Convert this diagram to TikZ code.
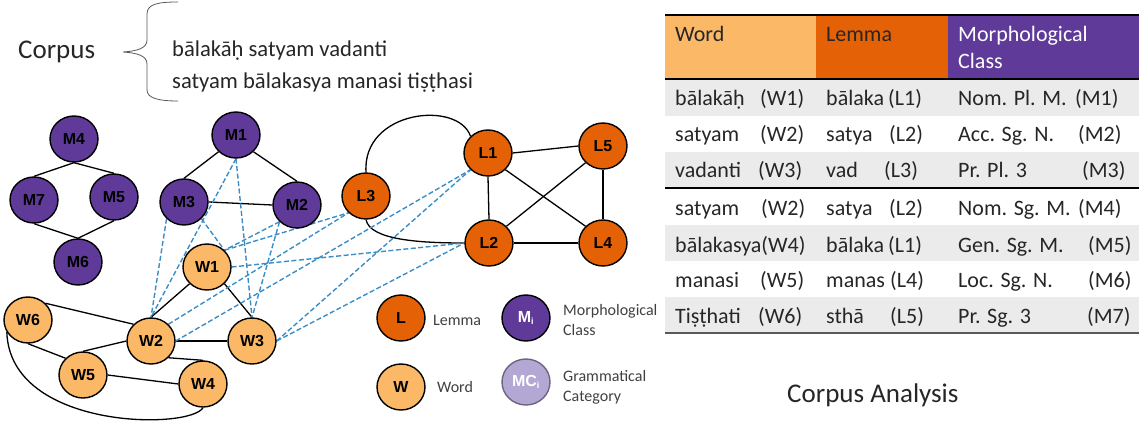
\documentclass[tikz,border=0pt]{standalone}
\usepackage{fontspec}
\setmainfont{Carlito}
\newfontfamily\nodefont{Liberation Sans}
\usetikzlibrary{shapes.geometric,backgrounds}
\definecolor{mpurple}{HTML}{603A99}
\definecolor{lorange}{HTML}{E46205}
\definecolor{wyellow}{HTML}{FBB867}
\definecolor{mclight}{HTML}{B3A8D3}
\definecolor{dashblue}{HTML}{3B8DC8}
\definecolor{rowgray}{HTML}{EBEBEB}
\definecolor{txt}{HTML}{262626}
\definecolor{legtxt}{HTML}{404040}
\begin{document}
\begin{tikzpicture}[x=1pt,y=-1pt,
  gnode/.style={ellipse, draw=black, line width=1.4pt, minimum width=48pt, minimum height=46pt, inner sep=0pt, font=\nodefont\bfseries\fontsize{16}{16}\selectfont},
  mnode/.style={gnode, fill=mpurple},
  lnode/.style={gnode, fill=lorange},
  wnode/.style={gnode, fill=wyellow},
  cnode/.style={gnode, fill=mclight},
  edge/.style={line width=1.3pt, black},
  dlink/.style={draw=dashblue, line width=1.4pt, dash pattern=on 5pt off 2.5pt},
  tcell/.style={anchor=base west, inner sep=0pt, text=txt, font=\fontsize{22}{26}\selectfont},
  legtext/.style={anchor=west, inner sep=0pt, text=legtxt, align=left, font=\fontsize{16}{20}\selectfont},
]
\useasboundingbox (0,0) rectangle (1141,425);

% ---- Corpus ----
\node[anchor=west, inner sep=0pt, text=txt, font=\fontsize{27}{30}\selectfont] (corpus) at (18,52) {Corpus};
\draw[line width=0.8pt, black!65] (178,2) .. controls (158,2) and (147,4) .. (147,14) -- (147,40)
  .. controls (147,48) and (138,51) .. (123,52) .. controls (138,53) and (147,56) .. (147,64) -- (147,90)
  .. controls (147,98) and (158,101) .. (178,101);
\node[anchor=base west, inner sep=0pt, text=txt, font=\fontsize{22.6}{26}\selectfont] (s1) at (172,57) {bālakāḥ satyam vadanti};
\node[anchor=base west, inner sep=0pt, text=txt, font=\fontsize{22.6}{26}\selectfont] (s2) at (172,89) {satyam bālakasya manasi tiṣṭhasi};

% ---- Graph nodes ----
\node[mnode] (M4) at (74,139) {M4};
\node[mnode] (M7) at (34,200) {M7};
\node[mnode] (M5) at (114,197) {M5};
\node[mnode] (M6) at (78,262) {M6};
\node[mnode] (M1) at (236,135) {M1};
\node[mnode] (M3) at (184,202) {M3};
\node[mnode] (M2) at (297,205) {M2};
\node[wnode] (W1) at (207,267) {W1};
\node[wnode] (W6) at (28,320) {W6};
\node[wnode] (W2) at (151,341) {W2};
\node[wnode] (W3) at (252,341) {W3};
\node[wnode] (W5) at (83,375) {W5};
\node[wnode] (W4) at (203,384) {W4};
\node[lnode] (L1) at (488,153) {L1};
\node[lnode] (L5) at (603,146) {L5};
\node[lnode] (L3) at (366,196) {L3};
\node[lnode] (L2) at (489,243) {L2};
\node[lnode] (L4) at (603,243) {L4};

% ---- Legend ----
\node[lnode] (legL) at (401,318) {L};
\node[mnode, text=white] (legM) at (526,318) {M\textsubscript{\fontsize{9}{9}\selectfont i}};
\node[wnode] (legW) at (401,387) {W};
\node[cnode, draw=mclight!60!black, text=white] (legC) at (526,382) {MC\textsubscript{\fontsize{9}{9}\selectfont i}};
\node[legtext] (tL) at (433,320) {Lemma};
\node[legtext] (tM) at (563,320) {Morphological\\Class};
\node[legtext] (tW) at (437,387) {Word};
\node[legtext] (tC) at (563,387) {Grammatical\\Category};

% ---- Edges ----
\begin{scope}[on background layer]
\draw[edge] (M4.south) -- (M7.north);
\draw[edge] (M4.south) -- (M5.north);
\draw[edge] (M7.south) -- (M6.north);
\draw[edge] (M5.south) -- (M6.north);
\draw[edge] (M1.south west) -- (M3.north);
\draw[edge] (M1.south east) -- (M2.north);
\draw[edge] (M3.east) -- (M2.west);
\draw[edge] (W1.south west) -- (W2.north);
\draw[edge] (W1.south east) -- (W3.north);
\draw[edge] (W2.east) -- (W3.west);
\draw[edge] (W6.north east) -- (W2.north west);
\draw[edge] (W6.south) -- (W5.north west);
\draw[edge] (W2.west) -- (W5.north);
\draw[edge] (W5.east) -- (W4.west);
\draw[edge] (W2.south east) -- (W4.north);
\draw[edge] (W6.210) .. controls (10,430) and (190,430) .. (W4.south);
\draw[edge] (L3.north) .. controls (362,110) and (458,100) .. (L1.north west);
\draw[edge] (L3.south) .. controls (370,240) and (420,243) .. (L2.west);
\draw[edge] (L1.east) -- (L5.west);
\draw[edge] (L1.south) -- (L2.north);
\draw[edge] (L1.south east) -- (L4.north west);
\draw[edge] (L2.north east) -- (L5.south west);
\draw[edge] (L2.east) -- (L4.west);
\draw[edge] (L5.south) -- (L4.north);
% dashed links
\draw[dlink] (M1.south) -- (W2.north);
\draw[dlink] (M1.south) -- (W3.north);
\draw[dlink] (M3.south west) -- (W2.north);
\draw[dlink] (M3.south east) -- (W1.north east);
\draw[dlink] (M2.south west) -- (W1.north east);
\draw[dlink] (M2.south west) -- (W3.north);
\draw[dlink] (W1.north east) -- (L3.south west);
\draw[dlink] (W2.north east) -- (L3.south west);
\draw[dlink] (W1.east) -- (L2.west);
\draw[dlink] (W2.east) -- (L1.south west);
\draw[dlink] (W3.east) -- (L1.south west);
\draw[dlink] (W3.east) -- (L2.west);
\end{scope}

% ---- Table ----
\fill[wyellow] (665,15) rectangle (816,79);
\fill[lorange] (816,15) rectangle (948,79);
\fill[mpurple] (948,15) rectangle (1139,79);
\fill[rowgray] (665,79) rectangle (1139,116);
\fill[rowgray] (665,152) rectangle (1139,188);
\fill[rowgray] (665,225) rectangle (1139,261);
\fill[rowgray] (665,297) rectangle (1139,333);
\draw[line width=2pt, black] (665,15) -- (1139,15);
\draw[line width=2pt, black] (665,79) -- (1139,79);
\draw[line width=1.3pt, black] (665,188) -- (1139,188);
\draw[line width=2pt, black!65] (665,333) -- (1139,333);

\node[tcell] (hW) at (675,42) {Word};
\node[tcell] (hL) at (826,42) {Lemma};
\node[tcell, text=white] (hM1) at (958,42) {Morphological};
\node[tcell, text=white] (hM2) at (958,69) {Class};

\node[tcell] (r1a) at (675,106) {bālakāḥ};
\node[tcell] (r1b) at (760,106) {(W1)};
\node[tcell] (r1c) at (826,106) {bālaka};
\node[tcell] (r1d) at (888,106) {(L1)};
\node[tcell] (r1e) at (958,106) {Nom. Pl. M.};
\node[tcell] (r1f) at (1075,106) {(M1)};

\node[tcell] (r2a) at (675,142) {satyam};
\node[tcell] (r2b) at (760,142) {(W2)};
\node[tcell] (r2c) at (826,142) {satya};
\node[tcell] (r2d) at (889,142) {(L2)};
\node[tcell] (r2e) at (958,142) {Acc. Sg. N.};
\node[tcell] (r2f) at (1078,142) {(M2)};

\node[tcell] (r3a) at (675,178) {vadanti};
\node[tcell] (r3b) at (758,178) {(W3)};
\node[tcell] (r3c) at (826,178) {vad};
\node[tcell] (r3d) at (884,178) {(L3)};
\node[tcell] (r3e) at (958,178) {Pr. Pl. 3};
\node[tcell] (r3f) at (1082,178) {(M3)};

\node[tcell] (r4a) at (675,215) {satyam};
\node[tcell] (r4b) at (761,215) {(W2)};
\node[tcell] (r4c) at (826,215) {satya};
\node[tcell] (r4d) at (889,215) {(L2)};
\node[tcell] (r4e) at (958,215) {Nom. Sg. M.};
\node[tcell] (r4f) at (1078,215) {(M4)};

\node[tcell] (r5a) at (675,252) {bālakasya(W4)};
\node[tcell] (r5c) at (826,252) {bālaka};
\node[tcell] (r5d) at (888,252) {(L1)};
\node[tcell] (r5e) at (958,252) {Gen. Sg. M.};
\node[tcell] (r5f) at (1088,252) {(M5)};

\node[tcell] (r6a) at (675,287) {manasi};
\node[tcell] (r6b) at (760,287) {(W5)};
\node[tcell] (r6c) at (826,287) {manas};
\node[tcell] (r6d) at (890,287) {(L4)};
\node[tcell] (r6e) at (958,287) {Loc. Sg. N.};
\node[tcell] (r6f) at (1088,287) {(M6)};

\node[tcell] (r7a) at (675,323) {Tiṣṭhati};
\node[tcell] (r7b) at (758,323) {(W6)};
\node[tcell] (r7c) at (826,323) {sthā};
\node[tcell] (r7d) at (890,323) {(L5)};
\node[tcell] (r7e) at (958,323) {Pr. Sg. 3};
\node[tcell] (r7f) at (1087,323) {(M7)};

\node[anchor=west, inner sep=0pt, text=txt, font=\fontsize{27}{30}\selectfont] (title) at (787,395) {Corpus Analysis};
\end{tikzpicture}
\end{document}
